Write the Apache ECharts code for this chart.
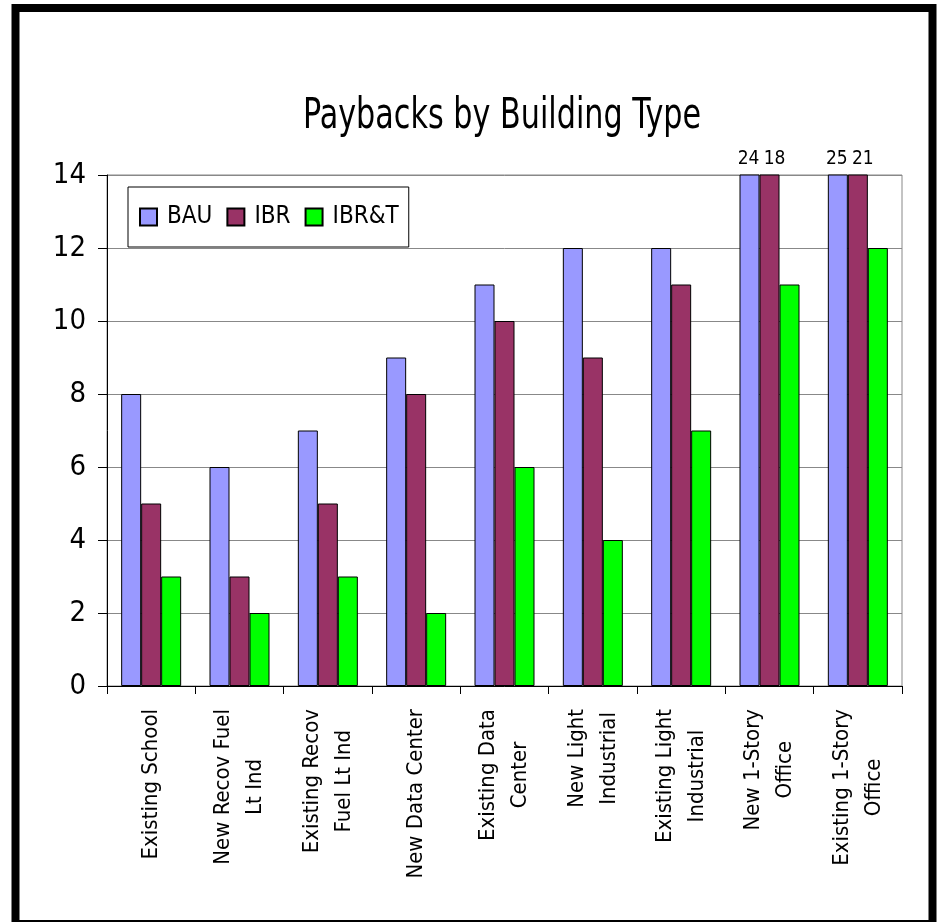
<!DOCTYPE html>
<html><head><meta charset="utf-8">
<script src="https://cdn.jsdelivr.net/npm/echarts@6/dist/echarts.min.js"></script>
<style>html,body{margin:0;padding:0;background:#fff}#c{width:939px;height:922px}</style>
</head><body><div id="c"></div>
<script>
const categories = [
  ['Existing School'],
  ['New Recov Fuel', 'Lt Ind'],
  ['Existing Recov', 'Fuel Lt Ind'],
  ['New Data Center'],
  ['Existing Data', 'Center'],
  ['New Light', 'Industrial'],
  ['Existing Light', 'Industrial'],
  ['New 1-Story', 'Office'],
  ['Existing 1-Story', 'Office']
];
const seriesNames = ['BAU', 'IBR', 'IBR&T'];
const bau = [8, 6, 7, 9, 11, 12, 12, 24, 25];
const ibr = [5, 3, 5, 8, 10, 9, 11, 18, 21];
const ibrt = [3, 2, 3, 2, 6, 4, 7, 11, 12];
const colors = ['#9999FF', '#993366', '#00FF00'];
const yTicks = [0, 2, 4, 6, 8, 10, 12, 14];
const titleText = 'Paybacks by Building Type';

const FONT = "'Liberation Sans Narrow', 'DejaVu Sans Condensed', sans-serif";
const yMax = yTicks[yTicks.length - 1];

const chart = echarts.init(document.getElementById('c'), null, {renderer: 'canvas'});
const catKeys = categories.map(c => c.join('\n'));

function mk(name, data, color, dx) {
  return {
    name: name, type: 'bar', data: data, barWidth: 20,
    barGap: '0%', barCategoryGap: '32%',
    itemStyle: {color: color, borderColor: '#000', borderWidth: 1},
    label: {
      show: true, position: 'top', distance: 6, offset: [dx, 0],
      fontFamily: FONT, fontSize: 19, color: '#000',
      formatter: p => (p.value > yMax ? String(p.value) : '')
    }
  };
}

chart.setOption({
  animation: false,
  backgroundColor: '#fff',
  legend: {
    left: 128, top: 187, padding: [18, 10, 18, 11],
    itemWidth: 17, itemHeight: 17, itemGap: 14, icon: 'rect',
    backgroundColor: '#fff', borderColor: '#000', borderWidth: 1,
    textStyle: {fontFamily: FONT, fontSize: 24, color: '#000', padding: [0, 0, 0, 5]},
    data: seriesNames
  },
  grid: {
    left: 107, right: 37, top: 175, bottom: 236,
    show: true, borderColor: '#888', borderWidth: 1, backgroundColor: 'transparent'
  },
  xAxis: {
    type: 'category', data: catKeys,
    axisLine: {lineStyle: {color: '#000', width: 1}},
    axisTick: {show: true, length: 8, alignWithLabel: false, lineStyle: {color: '#000'}},
    axisLabel: {
      rotate: 90, margin: 23, interval: 0,
      formatter: v => v.split('\n').map(s => '{c|' + s + '}').join('\n'),
      rich: {c: {fontFamily: FONT, fontSize: 22, color: '#000', align: 'center', lineHeight: 32}}
    }
  },
  yAxis: {
    type: 'value', min: yTicks[0], max: yMax, interval: 2,
    axisLine: {show: true, lineStyle: {color: '#000', width: 1}},
    axisTick: {show: true, length: 9, lineStyle: {color: '#000'}},
    axisLabel: {margin: 21, fontFamily: FONT, fontSize: 29, color: '#000'},
    splitLine: {lineStyle: {color: '#888', width: 1}}
  },
  series: [
    mk(seriesNames[0], bau, colors[0], -1),
    mk(seriesNames[1], ibr, colors[1], 5),
    mk(seriesNames[2], ibrt, colors[2], 0)
  ],
  graphic: [{
    type: 'text', silent: true, x: 303, y: 117, scaleX: 0.8,
    style: {text: titleText, font: "normal 42px " + FONT, fill: '#000', align: 'left', verticalAlign: 'middle'}
  }, {
    type: 'rect', silent: true, z: 100,
    shape: {x: 15.5, y: 8, width: 917, height: 916},
    style: {fill: 'none', stroke: '#000', lineWidth: 8}
  }]
});
</script></body></html>
